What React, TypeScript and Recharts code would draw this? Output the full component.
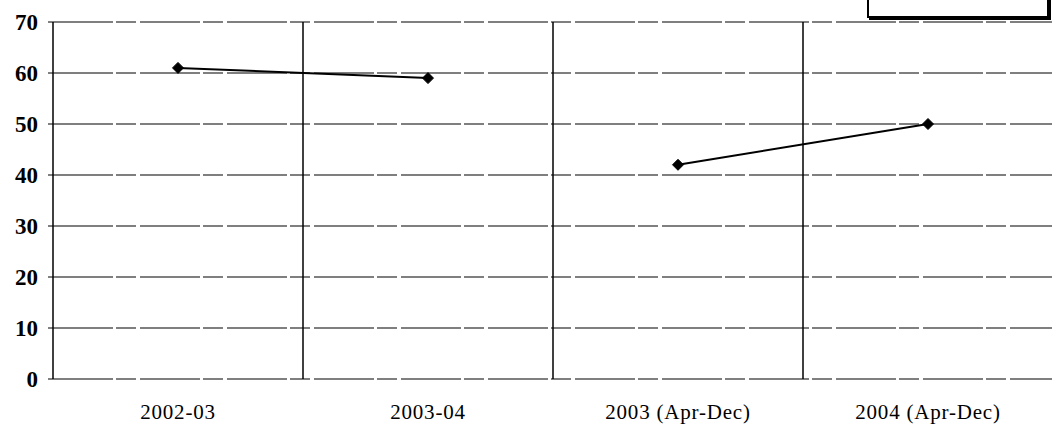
import React from 'react';
import { LineChart, Line, XAxis, YAxis, CartesianGrid, ReferenceLine } from 'recharts';

const periods = ['2002-03', '2003-04', '2003 (Apr-Dec)', '2004 (Apr-Dec)'];
const fiscalYearValues = [61, 59, null, null];
const calendarValues = [null, null, 42, 50];
const yTicks = [0, 10, 20, 30, 40, 50, 60, 70];
const boundaries = [1, 2, 3];

const data = periods.map((p, i) => ({
  x: i + 0.5,
  period: p,
  fiscal: fiscalYearValues[i],
  calendar: calendarValues[i],
}));

const Diamond = (props: any) => {
  const { cx, cy, value } = props;
  if (value == null || cx == null || cy == null) return null;
  const r = 5.5;
  return (
    <polygon
      points={`${cx},${cy - r} ${cx + r},${cy} ${cx},${cy + r} ${cx - r},${cy}`}
      fill="#000"
      stroke="#000"
    />
  );
};

export default function App() {
  return (
    <div style={{ position: 'absolute', left: 0, top: 0, width: 1052, height: 431, background: '#fff', overflow: 'hidden' }}>
      <LineChart
        width={1053}
        height={431}
        data={data}
        margin={{ top: 22, right: 0, left: 8, bottom: 22 }}
      >
        <CartesianGrid vertical={false} stroke="#000" strokeDasharray="60 3 20 4" strokeWidth={1.2} />
        {boundaries.map((b) => (
          <ReferenceLine key={b} x={b} stroke="#000" strokeWidth={1.5} />
        ))}
        <XAxis
          type="number"
          dataKey="x"
          domain={[0, 4]}
          ticks={data.map((d) => d.x)}
          tickFormatter={(v: number) => periods[Math.floor(v)]}
          axisLine={false}
          tickLine={false}
          tickMargin={19}
          height={30}
          tick={{ fill: '#000', fontSize: 21, letterSpacing: 0.8, fontFamily: '"Liberation Serif", serif' }}
        />
        <YAxis
          domain={[0, 70]}
          ticks={yTicks}
          width={45}
          axisLine={{ stroke: '#000', strokeWidth: 1.5 }}
          tickLine={{ stroke: '#000' }}
          tickSize={5}
          tickMargin={10}
          tick={{ fill: '#000', fontSize: 23, fontWeight: 'bold', fontFamily: '"Liberation Serif", serif' }}
        />
        <Line
          dataKey="fiscal"
          stroke="#000"
          strokeWidth={2}
          dot={<Diamond />}
          connectNulls={false}
          isAnimationActive={false}
        />
        <Line
          dataKey="calendar"
          stroke="#000"
          strokeWidth={2}
          dot={<Diamond />}
          connectNulls={false}
          isAnimationActive={false}
        />
      </LineChart>
      <div
        style={{
          position: 'absolute',
          left: 867,
          top: -14,
          width: 178,
          height: 28,
          border: '2px solid #000',
          background: '#fff',
          boxShadow: '2px 2px 0 #000',
        }}
      />
    </div>
  );
}
